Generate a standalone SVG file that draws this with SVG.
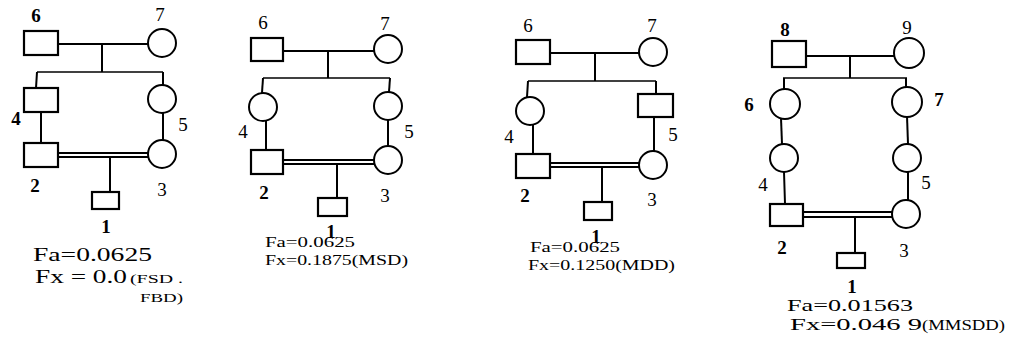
<svg xmlns="http://www.w3.org/2000/svg" width="1009" height="343" viewBox="0 0 1009 343">
  <style>
    .sq { fill: #fff; stroke: #000; stroke-width: 2.2; }
    .ci { fill: #fff; stroke: #000; stroke-width: 2; }
    .ln { fill: none; stroke: #000; stroke-width: 2; }
    .sib { fill: none; stroke: #000; stroke-width: 1.5; }
    .dbl { fill: none; stroke: #000; stroke-width: 1.8; }
    .lbl { font-family: "Liberation Serif", "DejaVu Serif", serif; font-size: 19px; fill: #000; }
    .b { font-weight: bold; }
    .big { font-family: "Liberation Serif", "DejaVu Serif", serif; font-size: 18px; fill: #000; }
    .mid { font-family: "Liberation Serif", "DejaVu Serif", serif; font-size: 17px; fill: #000; }
    .sm { font-family: "Liberation Serif", "DejaVu Serif", serif; font-size: 14.5px; fill: #000; }
    .xs { font-family: "Liberation Serif", "DejaVu Serif", serif; font-size: 13px; fill: #000; }
  </style>

  <!-- Pedigree A: full sib parents' children -->
  <g id="pedA">
    <g id="connectorsA">
      <line class="ln" x1="58" y1="44" x2="148" y2="44"/>
      <line class="ln" x1="102" y1="44" x2="102" y2="72"/>
      <line class="sib" x1="37" y1="72" x2="163" y2="72"/>
      <line class="ln" x1="37" y1="72" x2="36" y2="88"/>
      <line class="ln" x1="163" y1="72" x2="163" y2="85"/>
      <line class="ln" x1="41" y1="112" x2="41" y2="143"/>
      <line class="ln" x1="163" y1="113" x2="163" y2="140"/>
      <line class="dbl" x1="58" y1="153" x2="148" y2="153"/>
      <line class="dbl" x1="58" y1="157" x2="148" y2="157"/>
      <line class="ln" x1="110" y1="157" x2="110" y2="192"/>
    </g>
    <g id="A6"><rect class="sq" x="24" y="31" width="34" height="24"/><text class="lbl b" x="36" y="22" text-anchor="middle">6</text></g>
    <g id="A7"><circle class="ci" cx="162" cy="43" r="14"/><text class="lbl" x="160" y="21" text-anchor="middle">7</text></g>
    <g id="A4"><rect class="sq" x="24" y="88" width="34" height="24"/><text class="lbl b" x="16" y="125" text-anchor="middle">4</text></g>
    <g id="A5"><circle class="ci" cx="162" cy="99" r="14"/><text class="lbl" x="183" y="131" text-anchor="middle">5</text></g>
    <g id="A2"><rect class="sq" x="24" y="143" width="34" height="24"/><text class="lbl b" x="35" y="192" text-anchor="middle">2</text></g>
    <g id="A3"><circle class="ci" cx="162" cy="154" r="14"/><text class="lbl" x="162" y="196" text-anchor="middle">3</text></g>
    <g id="A1"><rect class="sq" x="92" y="192" width="27" height="17"/><text class="lbl b" x="106" y="233" text-anchor="middle">1</text></g>
    <text class="big" x="33" y="261" textLength="119" lengthAdjust="spacingAndGlyphs">Fa=0.0625</text>
    <text class="big" x="35" y="283" textLength="92" lengthAdjust="spacingAndGlyphs">Fx = 0.0</text>
    <text class="xs" x="130" y="283" textLength="53" lengthAdjust="spacingAndGlyphs">(FSD .</text>
    <text class="xs" x="140" y="302" textLength="43" lengthAdjust="spacingAndGlyphs">FBD)</text>
  </g>

  <!-- Pedigree B -->
  <g id="pedB">
    <g id="connectorsB">
      <line class="ln" x1="283" y1="51" x2="374" y2="51"/>
      <line class="ln" x1="328" y1="51" x2="328" y2="78"/>
      <line class="sib" x1="263" y1="78" x2="390" y2="78"/>
      <line class="ln" x1="263" y1="78" x2="262" y2="93"/>
      <line class="ln" x1="390" y1="78" x2="389" y2="92"/>
      <line class="ln" x1="266" y1="121" x2="266" y2="150"/>
      <line class="ln" x1="388" y1="120" x2="388" y2="146"/>
      <line class="dbl" x1="283" y1="160" x2="374" y2="160"/>
      <line class="dbl" x1="283" y1="164" x2="374" y2="164"/>
      <line class="ln" x1="337" y1="164" x2="337" y2="198"/>
    </g>
    <g id="B6"><rect class="sq" x="251" y="38" width="32" height="23"/><text class="lbl" x="263" y="29" text-anchor="middle">6</text></g>
    <g id="B7"><circle class="ci" cx="388" cy="49" r="14"/><text class="lbl" x="385" y="30" text-anchor="middle">7</text></g>
    <g id="B4"><circle class="ci" cx="263" cy="107" r="14"/><text class="lbl" x="243" y="138" text-anchor="middle">4</text></g>
    <g id="B5"><circle class="ci" cx="388" cy="106" r="14"/><text class="lbl" x="409" y="138" text-anchor="middle">5</text></g>
    <g id="B2"><rect class="sq" x="251" y="150" width="32" height="24"/><text class="lbl b" x="264" y="199" text-anchor="middle">2</text></g>
    <g id="B3"><circle class="ci" cx="388" cy="160" r="14"/><text class="lbl" x="385" y="202" text-anchor="middle">3</text></g>
    <g id="B1"><rect class="sq" x="318" y="198" width="29" height="18"/><text class="lbl b" x="331" y="238" text-anchor="middle">1</text></g>
    <text class="sm" x="265" y="247" textLength="90" lengthAdjust="spacingAndGlyphs">Fa=0.0625</text>
    <text class="sm" x="265" y="265" textLength="143" lengthAdjust="spacingAndGlyphs">Fx=0.1875(MSD)</text>
  </g>

  <!-- Pedigree C -->
  <g id="pedC">
    <g id="connectorsC">
      <line class="ln" x1="550" y1="53" x2="639" y2="53"/>
      <line class="ln" x1="595" y1="53" x2="595" y2="81"/>
      <line class="sib" x1="528" y1="81" x2="656" y2="81"/>
      <line class="ln" x1="528" y1="81" x2="527" y2="97"/>
      <line class="ln" x1="656" y1="81" x2="656" y2="94"/>
      <line class="ln" x1="533" y1="125" x2="533" y2="154"/>
      <line class="ln" x1="654" y1="117" x2="654" y2="151"/>
      <line class="dbl" x1="550" y1="163" x2="639" y2="163"/>
      <line class="dbl" x1="550" y1="167" x2="639" y2="167"/>
      <line class="ln" x1="602" y1="167" x2="602" y2="202"/>
    </g>
    <g id="C6"><rect class="sq" x="516" y="40" width="34" height="24"/><text class="lbl" x="528" y="32" text-anchor="middle">6</text></g>
    <g id="C7"><circle class="ci" cx="653" cy="52" r="14"/><text class="lbl" x="652" y="32" text-anchor="middle">7</text></g>
    <g id="C4"><circle class="ci" cx="530" cy="111" r="14"/><text class="lbl" x="509" y="143" text-anchor="middle">4</text></g>
    <g id="C5"><rect class="sq" x="638" y="94" width="35" height="23"/><text class="lbl" x="673" y="141" text-anchor="middle">5</text></g>
    <g id="C2"><rect class="sq" x="516" y="154" width="34" height="24"/><text class="lbl b" x="525" y="202" text-anchor="middle">2</text></g>
    <g id="C3"><circle class="ci" cx="653" cy="165" r="14"/><text class="lbl" x="652" y="206" text-anchor="middle">3</text></g>
    <g id="C1"><rect class="sq" x="584" y="202" width="28" height="18"/><text class="lbl b" x="596" y="243" text-anchor="middle">1</text></g>
    <text class="sm" x="530" y="252" textLength="90" lengthAdjust="spacingAndGlyphs">Fa=0.0625</text>
    <text class="sm" x="528" y="270" textLength="147" lengthAdjust="spacingAndGlyphs">Fx=0.1250(MDD)</text>
  </g>

  <!-- Pedigree D -->
  <g id="pedD">
    <g id="connectorsD">
      <line class="ln" x1="806" y1="56" x2="894" y2="56"/>
      <line class="ln" x1="850" y1="56" x2="850" y2="78"/>
      <line class="sib" x1="783" y1="78" x2="907" y2="78"/>
      <line class="ln" x1="784" y1="78" x2="784" y2="89"/>
      <line class="ln" x1="906" y1="78" x2="906" y2="87"/>
      <line class="ln" x1="781" y1="118" x2="782" y2="144"/>
      <line class="ln" x1="907" y1="116" x2="908" y2="144"/>
      <line class="ln" x1="784" y1="172" x2="785" y2="204"/>
      <line class="ln" x1="908" y1="172" x2="908" y2="200"/>
      <line class="dbl" x1="803" y1="212" x2="892" y2="212"/>
      <line class="dbl" x1="803" y1="217" x2="892" y2="217"/>
      <line class="ln" x1="855" y1="217" x2="855" y2="253"/>
    </g>
    <g id="D8"><rect class="sq" x="772" y="41" width="34" height="26"/><text class="lbl b" x="785" y="36" text-anchor="middle">8</text></g>
    <g id="D9"><circle class="ci" cx="909" cy="53" r="15"/><text class="lbl" x="907" y="34" text-anchor="middle">9</text></g>
    <g id="D6"><circle class="ci" cx="785" cy="104" r="15"/><text class="lbl b" x="749" y="111" text-anchor="middle">6</text></g>
    <g id="D7"><circle class="ci" cx="907" cy="102" r="15"/><text class="lbl b" x="939" y="106" text-anchor="middle">7</text></g>
    <g id="D4"><circle class="ci" cx="784" cy="158" r="14"/><text class="lbl" x="763" y="191" text-anchor="middle">4</text></g>
    <g id="D5"><circle class="ci" cx="907" cy="158" r="14"/><text class="lbl" x="926" y="189" text-anchor="middle">5</text></g>
    <g id="D2"><rect class="sq" x="770" y="204" width="33" height="22"/><text class="lbl b" x="782" y="254" text-anchor="middle">2</text></g>
    <g id="D3"><circle class="ci" cx="906" cy="214" r="14"/><text class="lbl" x="904" y="257" text-anchor="middle">3</text></g>
    <g id="D1"><rect class="sq" x="837" y="253" width="28" height="15"/><text class="lbl b" x="852" y="293" text-anchor="middle">1</text></g>
    <text class="mid" x="787" y="311" textLength="126" lengthAdjust="spacingAndGlyphs">Fa=0.01563</text>
    <text class="mid" x="790" y="330" textLength="132" lengthAdjust="spacingAndGlyphs">Fx=0.046 9</text>
    <text class="sm" x="922" y="330" textLength="83" lengthAdjust="spacingAndGlyphs">(MMSDD)</text>
  </g>
</svg>
